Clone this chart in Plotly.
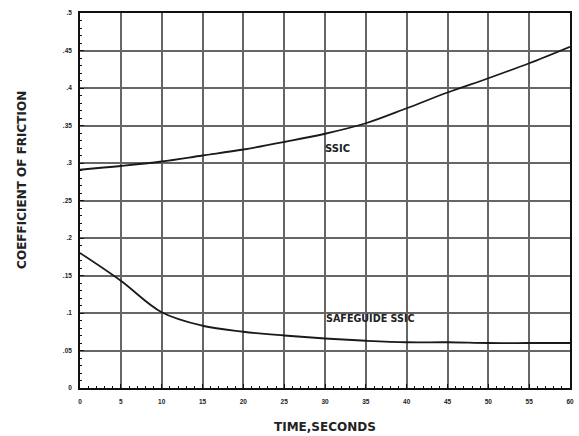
import plotly.graph_objects as go

time_s = [0, 5, 10, 15, 20, 25, 30, 35, 40, 45, 50, 55, 60]
ssic = [0.291, 0.296, 0.302, 0.310, 0.318, 0.328, 0.339, 0.353, 0.373, 0.394, 0.413, 0.433, 0.455]
safeguide_ssic = [0.180, 0.143, 0.101, 0.083, 0.075, 0.070, 0.066, 0.063, 0.061, 0.061, 0.060, 0.060, 0.060]

x_ticks = [0, 5, 10, 15, 20, 25, 30, 35, 40, 45, 50, 55, 60]
y_ticks = [0, 0.05, 0.1, 0.15, 0.2, 0.25, 0.3, 0.35, 0.4, 0.45, 0.5]
y_tick_labels = ["0", ".05", ".1", ".15", ".2", ".25", ".3", ".35", ".4", ".45", ".5"]

FONT = "Liberation Sans"
WIDE = "DejaVu Sans"

fig = go.Figure()
fig.add_trace(go.Scatter(x=time_s, y=ssic, mode="lines",
                         line=dict(color="#1a1a1a", width=1.8, shape="spline", smoothing=1.0), name="SSIC"))
fig.add_trace(go.Scatter(x=time_s, y=safeguide_ssic, mode="lines",
                         line=dict(color="#1a1a1a", width=1.8, shape="spline", smoothing=1.0), name="SAFEGUIDE SSIC"))

fig.add_annotation(x=29.7, y=0.32, text="<b>SSIC</b>", showarrow=False, xanchor="left",
                   font=dict(family=WIDE, size=10, color="#222"))
fig.add_annotation(x=29.9, y=0.093, text="<b>SAFEGUIDE SSIC</b>", showarrow=False, xanchor="left",
                   font=dict(family=WIDE, size=9.6, color="#222"))

# axis titles placed as annotations to match the reference positions
fig.add_annotation(xref="paper", yref="paper", x=0, y=0.555, xshift=-58, textangle=-90,
                   text="<b>COEFFICIENT OF FRICTION</b>", showarrow=False,
                   xanchor="center", yanchor="middle",
                   font=dict(family=WIDE, size=12, color="#222"))
fig.add_annotation(xref="paper", yref="paper", x=0.501, y=0, yshift=-39,
                   text="<b>TIME,SECONDS</b>", showarrow=False,
                   xanchor="center", yanchor="middle",
                   font=dict(family=WIDE, size=12, color="#222"))

fig.update_layout(
    width=579, height=436,
    margin=dict(l=80, r=5, t=13, b=48),
    paper_bgcolor="white", plot_bgcolor="white",
    showlegend=False,
    font=dict(family=FONT, color="#222"),
)
fig.update_xaxes(
    range=[0, 60], tickvals=x_ticks, ticktext=["<b>%d</b>" % v for v in x_ticks],
    showgrid=True, gridcolor="#666", gridwidth=1.5,
    showline=True, linecolor="#111", linewidth=1.6, mirror=True,
    ticks="inside", ticklen=4, tickcolor="#111",
    minor=dict(dtick=1, ticks="inside", ticklen=2, tickcolor="#111", showgrid=False),
    tickfont=dict(size=6.5, family=FONT), ticklabelstandoff=6,
    zeroline=False,
)
fig.update_yaxes(
    range=[0, 0.5], tickvals=y_ticks, ticktext=["<b>%s</b>" % t for t in y_tick_labels],
    showgrid=True, gridcolor="#666", gridwidth=1.5,
    showline=True, linecolor="#111", linewidth=1.6, mirror=True,
    ticks="inside", ticklen=4, tickcolor="#111",
    minor=dict(dtick=0.01, ticks="inside", ticklen=2, tickcolor="#111", showgrid=False),
    tickfont=dict(size=6.5, family=FONT), ticklabelstandoff=5,
    zeroline=False,
)

fig.write_html("out.html", config={"displayModeBar": False},
               post_script="document.body.style.margin='0';document.body.style.overflow='hidden';")
